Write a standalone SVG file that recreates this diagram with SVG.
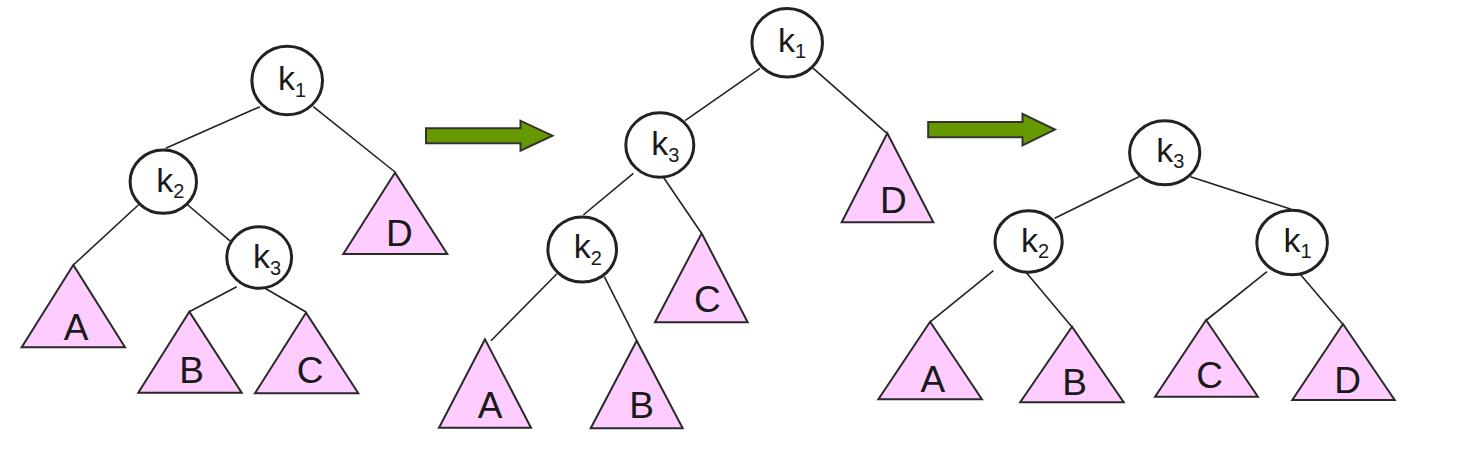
<svg xmlns="http://www.w3.org/2000/svg" width="1458" height="462" viewBox="0 0 1458 462">
<style>
.n{fill:#fff;stroke:#222;stroke-width:3}
.t{fill:#fcf;stroke:#2a2a2a;stroke-width:2;stroke-linejoin:miter}
.e{stroke:#222;stroke-width:1.6;fill:none}
.a{fill:#669900;stroke:#333;stroke-width:2}
.k{font-family:"Liberation Sans",Arial,sans-serif;font-size:34px;fill:#1a1a1a}
.s{font-size:20px}
.l{font-family:"Liberation Sans",Arial,sans-serif;font-size:37px;fill:#1a1a1a;text-anchor:middle}
</style>
<rect width="1458" height="462" fill="#fff"/>
<g id="connectors">
<line class="e" x1="260" y1="106.7" x2="165.7" y2="148.3"/>
<line class="e" x1="313.3" y1="106.7" x2="395" y2="172"/>
<line class="e" x1="138.3" y1="205" x2="73.3" y2="265"/>
<line class="e" x1="186.7" y1="204" x2="236.7" y2="246.7"/>
<line class="e" x1="236.7" y1="286.7" x2="189.3" y2="311.7"/>
<line class="e" x1="265" y1="288.3" x2="306" y2="312"/>
<line class="e" x1="760" y1="68.3" x2="685" y2="120.7"/>
<line class="e" x1="813.3" y1="68.3" x2="887" y2="133.3"/>
<line class="e" x1="633.3" y1="173.3" x2="583.3" y2="215"/>
<line class="e" x1="660.7" y1="173.3" x2="701.5" y2="233.3"/>
<line class="e" x1="556.7" y1="274" x2="491" y2="340.7"/>
<line class="e" x1="604.3" y1="276.7" x2="636.7" y2="340.7"/>
<line class="e" x1="1139" y1="176.7" x2="1054.7" y2="218.3"/>
<line class="e" x1="1190.4" y1="176.7" x2="1291.2" y2="209.3"/>
<line class="e" x1="993.4" y1="270.7" x2="930.5" y2="321.7"/>
<line class="e" x1="1025.6" y1="271.7" x2="1071.8" y2="326.7"/>
<line class="e" x1="1267" y1="271.7" x2="1206.5" y2="320"/>
<line class="e" x1="1298.1" y1="271.7" x2="1342.6" y2="324"/>
</g>
<g id="arrow1"><polygon class="a" points="426,128.3 520.5,128.3 520.5,120.7 552.5,135.7 520.5,150.7 520.5,143.3 426,143.3"/></g>
<g id="arrow2"><polygon class="a" points="928.2,122 1022.5,122 1022.5,113.8 1055,129.6 1022.5,145.4 1022.5,137.2 928.2,137.2"/></g>

<g id="t1_k1"><ellipse class="n" cx="287.2" cy="80.5" rx="35.3" ry="34.3"/><text class="k" x="278" y="90">k<tspan class="s" dy="6.5">1</tspan></text></g>
<g id="t1_k2"><ellipse class="n" cx="163.3" cy="181.7" rx="33.2" ry="31.6"/><text class="k" x="156.3" y="191.7">k<tspan class="s" dy="6.5">2</tspan></text></g>
<g id="t1_k3"><ellipse class="n" cx="259.2" cy="257.5" rx="32.4" ry="30.8"/><text class="k" x="253" y="268.3">k<tspan class="s" dy="6.5">3</tspan></text></g>
<g id="t1_A"><polygon class="t" points="73.3,265 21.7,347.3 125,347.3"/><text class="l" x="76" y="340">A</text></g>
<g id="t1_B"><polygon class="t" points="189.3,311.7 138.3,392.7 241.7,392.7"/><text class="l" x="191.7" y="383.3">B</text></g>
<g id="t1_C"><polygon class="t" points="306,312.7 255,393.3 358.3,393.3"/><text class="l" x="310" y="383">C</text></g>
<g id="t1_D"><polygon class="t" points="395,172.7 343.3,254 447.3,254"/><text class="l" x="399.3" y="246">D</text></g>

<g id="t2_k1"><ellipse class="n" cx="787.2" cy="42.8" rx="35.3" ry="34.3"/><text class="k" x="778" y="51.7">k<tspan class="s" dy="6.5">1</tspan></text></g>
<g id="t2_k3"><ellipse class="n" cx="659.8" cy="145" rx="34" ry="32.2"/><text class="k" x="651.3" y="155">k<tspan class="s" dy="6.5">3</tspan></text></g>
<g id="t2_k2"><ellipse class="n" cx="582.2" cy="249.5" rx="34.3" ry="32.6"/><text class="k" x="573.7" y="258.3">k<tspan class="s" dy="6.5">2</tspan></text></g>
<g id="t2_A"><polygon class="t" points="485,339.3 439,427.7 531,427.7"/><text class="l" x="490" y="418.3">A</text></g>
<g id="t2_B"><polygon class="t" points="636.7,340.7 590.7,428.3 682.7,428.3"/><text class="l" x="641.7" y="418.3">B</text></g>
<g id="t2_C"><polygon class="t" points="701.7,233.3 655,322.3 747.7,322.3"/><text class="l" x="707.3" y="312.3">C</text></g>
<g id="t2_D"><polygon class="t" points="887.3,133.3 841.7,222.3 933.3,222.3"/><text class="l" x="893.3" y="212.7">D</text></g>

<g id="t3_k3"><ellipse class="n" cx="1164.7" cy="152.8" rx="35.1" ry="32"/><text class="k" x="1156.2" y="161.7">k<tspan class="s" dy="6.5">3</tspan></text></g>
<g id="t3_k2"><ellipse class="n" cx="1028.6" cy="241.5" rx="33.6" ry="30.7"/><text class="k" x="1021" y="251.7">k<tspan class="s" dy="6.5">2</tspan></text></g>
<g id="t3_k1"><ellipse class="n" cx="1292.1" cy="242.5" rx="35.3" ry="32.3"/><text class="k" x="1283.5" y="251.7">k<tspan class="s" dy="6.5">1</tspan></text></g>
<g id="t3_A"><polygon class="t" points="930.1,321.7 878.4,399.3 981.9,399.3"/><text class="l" x="932.8" y="391.7">A</text></g>
<g id="t3_B"><polygon class="t" points="1072,326.7 1020.2,402.3 1123.7,402.3"/><text class="l" x="1074.6" y="395">B</text></g>
<g id="t3_C"><polygon class="t" points="1206.1,320 1155.1,396.7 1257.9,396.7"/><text class="l" x="1209.6" y="388.3">C</text></g>
<g id="t3_D"><polygon class="t" points="1343,324 1292.3,400 1394.7,400"/><text class="l" x="1347.5" y="393.3">D</text></g>
</svg>
